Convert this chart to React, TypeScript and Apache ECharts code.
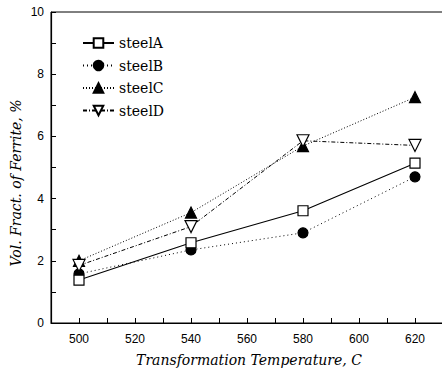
import React, { useEffect, useRef } from "react";
import * as echarts from "echarts";

const temps = [500, 540, 580, 620];
const steelA = [1.38, 2.58, 3.61, 5.14];
const steelB = [1.58, 2.35, 2.9, 4.7];
const steelC = [2.0, 3.55, 5.69, 7.26];
const steelD = [1.85, 3.1, 5.86, 5.71];
const xTicks = [500, 520, 540, 560, 580, 600, 620];
const yTicks = [0, 2, 4, 6, 8, 10];

const pair = (vals: number[]) => temps.map((t, i) => [t, vals[i]]);

export default function App() {
  const ref = useRef<HTMLDivElement>(null);
  useEffect(() => {
    const chart = echarts.init(ref.current!, null, { renderer: "svg" });
    const sans = "Liberation Sans";
    const serif = "DejaVu Serif";
    const base = (name: string, vals: number[], symbol: string, size: number, filled: boolean, line: any, rot = 0) => ({
      name,
      type: "line",
      data: pair(vals),
      symbol,
      symbolSize: size,
      symbolRotate: rot,
      lineStyle: { color: "#000", width: 1, ...line },
      itemStyle: { color: filled ? "#000" : "#fff", borderColor: "#000", borderWidth: 1.2 },
      z: filled ? 3 : 4,
    });
    chart.setOption({
      animation: false,
      backgroundColor: "#fff",
      grid: { left: 51, top: 12, width: 392, height: 311, show: true, borderColor: "#000", borderWidth: 1 },
      xAxis: {
        type: "value",
        min: 490,
        max: 630,
        interval: 10,
        axisLine: { show: true, lineStyle: { color: "#000", width: 1.2 } },
        axisTick: { show: true, inside: true, length: 5, lineStyle: { color: "#000" } },
        splitLine: { show: false },
        axisLabel: {
          color: "#000",
          fontFamily: sans,
          fontSize: 12,
          margin: 10,
          formatter: (v: number) => (xTicks.includes(v) ? String(v) : ""),
        },
      },
      yAxis: {
        type: "value",
        min: 0,
        max: 10,
        interval: 1,
        axisLine: { show: true, lineStyle: { color: "#000", width: 1.2 } },
        axisTick: { show: true, inside: true, length: 5, lineStyle: { color: "#000" } },
        splitLine: { show: false },
        axisLabel: {
          color: "#000",
          fontFamily: sans,
          fontSize: 12,
          margin: 7,
          formatter: (v: number) => (yTicks.includes(v) ? String(v) : ""),
        },
      },
      legend: {
        orient: "vertical",
        left: 77,
        top: 31,
        itemWidth: 31,
        itemHeight: 12,
        itemGap: 8.5,
        textStyle: { fontFamily: serif, fontSize: 14, color: "#000" },
        data: ["steelA", "steelB", "steelC", "steelD"],
      },
      series: [
        base("steelA", steelA, "rect", 10, false, { type: "solid", width: 1.1 }),
        base("steelB", steelB, "circle", 10, true, { type: [1, 3] }),
        base("steelC", steelC, "triangle", 11, true, { type: [1, 2] }),
        base("steelD", steelD, "triangle", 12, false, { type: [4, 2, 1, 2] }, 180),
      ],
      graphic: [
        {
          type: "text",
          x: 16,
          y: 183,
          rotation: Math.PI / 2,
          style: {
            text: "Vol. Fract. of Ferrite, %",
            fontFamily: serif,
            fontStyle: "italic",
            fontSize: 14,
            fill: "#000",
            align: "center",
            verticalAlign: "middle",
          },
        },
        {
          type: "text",
          x: 249,
          y: 360,
          style: {
            text: "Transformation Temperature, C",
            fontFamily: serif,
            fontStyle: "italic",
            fontSize: 14,
            fill: "#000",
            align: "center",
            verticalAlign: "middle",
          },
        },
      ],
    });
    return () => chart.dispose();
  }, []);
  return <div ref={ref} style={{ position: "fixed", left: 0, top: 0, width: 450, height: 372 }} />;
}
